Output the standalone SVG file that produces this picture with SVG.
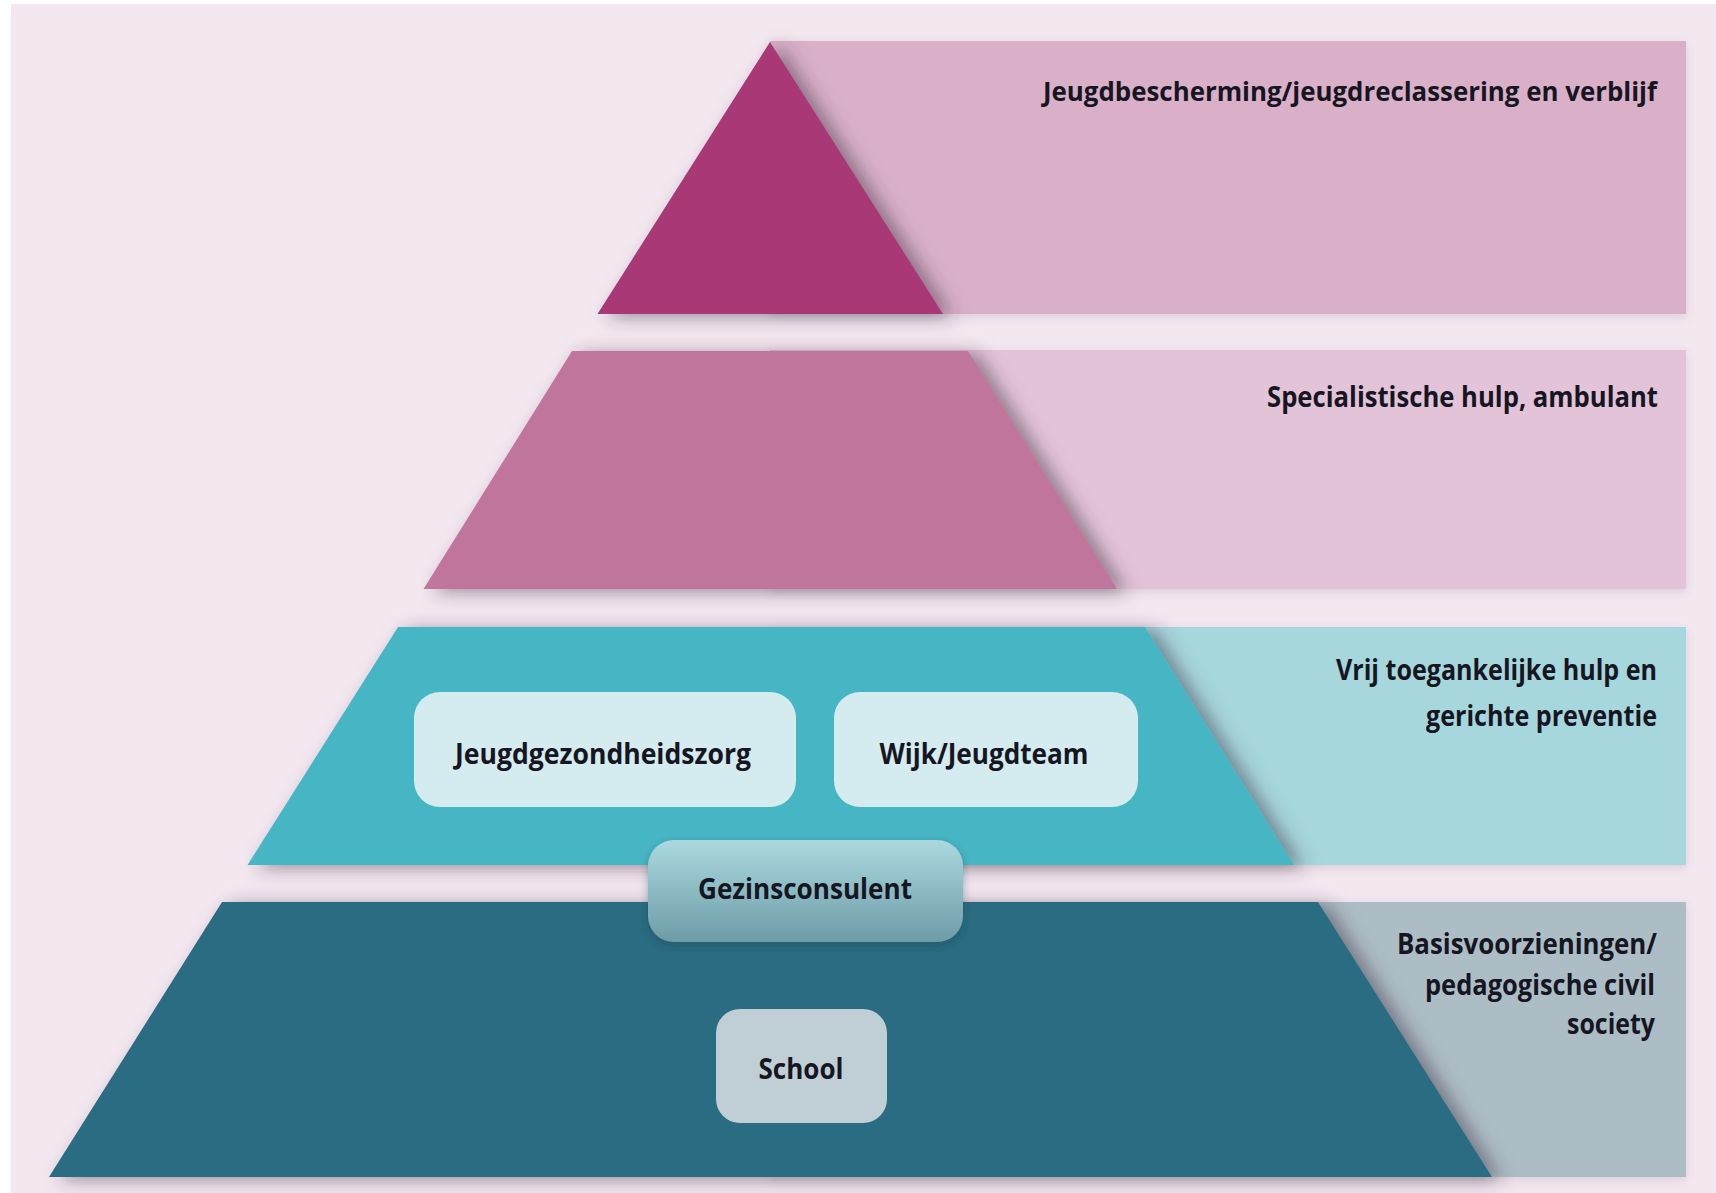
<svg xmlns="http://www.w3.org/2000/svg" width="1716" height="1193" viewBox="0 0 1716 1193">
<defs>
<filter id="sh" x="-20%" y="-20%" width="140%" height="140%">
<feDropShadow dx="10" dy="3" stdDeviation="9" flood-color="#3a3040" flood-opacity="0.5"/>
</filter>
<filter id="shr" x="-5%" y="-10%" width="110%" height="120%">
<feDropShadow dx="0" dy="3" stdDeviation="4" flood-color="#6a5a6a" flood-opacity="0.18"/>
</filter>
<filter id="shb" x="-20%" y="-20%" width="140%" height="140%">
<feDropShadow dx="0" dy="3" stdDeviation="4" flood-color="#203040" flood-opacity="0.35"/>
</filter>
<linearGradient id="gz" x1="0" y1="0" x2="0" y2="1">
<stop offset="0" stop-color="#acd9e0"/>
<stop offset="1" stop-color="#6d9ca7"/>
</linearGradient>
</defs>
<style>
.lbl{font-family:"Open Sans","Noto Sans","DejaVu Sans",sans-serif;font-weight:700;font-size:28px;fill:#161622;}
.sm{font-size:27px;}
.r{text-anchor:end;}
.c{text-anchor:middle;}
</style>
<rect x="0" y="0" width="1716" height="1193" fill="#ffffff"/>
<rect x="11" y="4" width="1705" height="1189" fill="#f3e7f0"/>

<g id="layer1">
<rect x="770" y="41" width="916" height="273" fill="#d9b0c8" filter="url(#shr)"/>
<polygon points="770,42 943,314 597.5,314" fill="#a93877" filter="url(#sh)"/>
<text class="lbl sm r" x="1657" y="101" textLength="614" lengthAdjust="spacingAndGlyphs">Jeugdbescherming/jeugdreclassering en verblijf</text>
</g>

<g id="layer2">
<rect x="770" y="350" width="916" height="239" fill="#e3c3d8" filter="url(#shr)"/>
<polygon points="572,351 968,351 1117,589 423.5,589" fill="#c0759c" filter="url(#sh)"/>
<text class="lbl r" x="1658" y="407" textLength="391" lengthAdjust="spacingAndGlyphs">Specialistische hulp, ambulant</text>
</g>

<g id="layer3">
<rect x="770" y="627" width="916" height="238" fill="#a6d7dd" filter="url(#shr)"/>
<polygon points="398,627 1145,627 1294,865 247.5,865" fill="#47b6c4" filter="url(#sh)"/>
<text class="lbl r" x="1657" y="680" textLength="321" lengthAdjust="spacingAndGlyphs">Vrij toegankelijke hulp en</text>
<text class="lbl r" x="1657" y="726" textLength="231" lengthAdjust="spacingAndGlyphs">gerichte preventie</text>
</g>

<g id="layer4">
<rect x="770" y="902" width="916" height="275" fill="#adbdc6" filter="url(#shr)"/>
<polygon points="222,902 1318,902 1492,1177 49,1177" fill="#296c81" filter="url(#sh)"/>
<text class="lbl r" x="1657" y="954" textLength="260" lengthAdjust="spacingAndGlyphs">Basisvoorzieningen/</text>
<text class="lbl r" x="1655" y="995" textLength="230" lengthAdjust="spacingAndGlyphs">pedagogische civil</text>
<text class="lbl r" x="1655" y="1034" textLength="88" lengthAdjust="spacingAndGlyphs">society</text>
</g>

<g id="jeugdgezondheidszorg">
<rect x="414" y="692" width="382" height="115" rx="26" fill="#d4ebef"/>
<text class="lbl c" x="603" y="764" textLength="296" lengthAdjust="spacingAndGlyphs">Jeugdgezondheidszorg</text>
</g>

<g id="wijkteam">
<rect x="834" y="692" width="304" height="115" rx="26" fill="#d4ebef"/>
<text class="lbl c" x="984" y="764" textLength="209" lengthAdjust="spacingAndGlyphs">Wijk/Jeugdteam</text>
</g>

<g id="school">
<rect x="716" y="1009" width="171" height="114" rx="24" fill="#c0ced5"/>
<text class="lbl c" x="801" y="1079" textLength="85" lengthAdjust="spacingAndGlyphs">School</text>
</g>

<g id="gezinsconsulent">
<rect x="648" y="840" width="315" height="102" rx="26" fill="url(#gz)" filter="url(#shb)"/>
<text class="lbl c" x="805" y="899" textLength="214" lengthAdjust="spacingAndGlyphs">Gezinsconsulent</text>
</g>

<g id="connectors"></g>
</svg>
